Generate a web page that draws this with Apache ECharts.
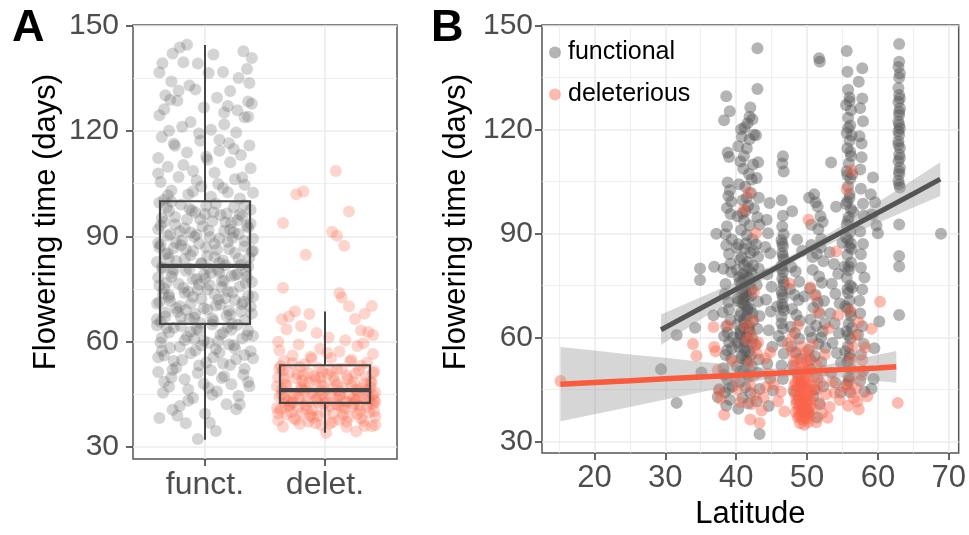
<!DOCTYPE html>
<html>
<head>
<meta charset="utf-8">
<script src="https://cdn.jsdelivr.net/npm/echarts@6.0.0/dist/echarts.min.js"></script>
<style>
  html, body { margin: 0; padding: 0; background: #fff; }
  #chart { width: 969px; height: 535px; }
</style>
</head>
<body>
<div id="chart"></div>
<script>
// ---- data ----
const aCategories = ["funct.", "delet."];
const yTicks = [30, 60, 90, 120, 150];
const latTicks = [20, 30, 40, 50, 60, 70];

// panel A: [jittered group position, flowering days]
const functJitter = [
  [0.79,143.8],[0.85,144.6],[1.32,142.7],[1.39,140.8],[0.645,139.3],[0.62,136.7],[0.82,139.6],[0.94,139.2],[1.03,136.5],[1.15,136.8],
  [1.35,137.7],[1.37,133.7],[0.72,134.1],[0.78,131.5],[0.92,131.8],[1.21,131.4],[0.77,128.6],[0.71,128.9],[1.36,128.4],[1.39,127.8],
  [0.66,126.2],[0.62,124.5],[1.19,127.1],[1.16,125.3],[1.27,125.9],[1.33,123.9],[0.88,122.6],[0.81,121.2],[0.7,120.1],[1.05,120.4],
  [1.26,119.6],[0.64,118.3],[0.96,117.2],[1.12,117.5],[1.37,115.9],[0.75,115.8],[0.85,113.9],[1.3,113.2],[0.61,112.3],[1.02,111.8],
  [1.21,111.1],[0.69,109.8],[1.38,109.4],[0.9,108.6],[1.08,108.1],[0.78,106.9],[1.25,106.3],[0.63,105.5],[1.33,104.7],[0.97,104.2],
  [1.15,103.8],[0.72,103.1],[1.4,102.4],[0.86,101.9],[1.05,101.3],[1.29,100.8],[0.66,100.4],[1.19,102.6],[0.93,105.9],[1.12,114.4],
  [0.62,99.6],[0.8,99.1],[1.01,98.7],[1.24,98.3],[1.38,97.6],[0.7,97.2],[0.92,96.8],[1.13,96.1],[1.31,95.7],[0.64,95.2],
  [0.85,94.8],[1.06,94.3],[1.22,93.9],[0.75,93.4],[0.98,92.9],[1.36,92.5],[0.61,92.0],[1.16,91.6],[0.88,91.1],[1.28,90.7],
  [0.69,90.2],[1.04,89.8],[1.4,89.3],[0.81,88.9],[1.19,88.4],[0.95,88.0],[0.63,87.6],[1.33,87.1],[0.74,86.7],[1.1,86.2],
  [0.9,85.8],[1.25,85.3],[0.67,84.9],[1.02,84.4],[1.37,84.0],[0.83,83.5],[1.15,83.1],[0.6,82.7],[0.97,82.2],[1.3,81.9],
  [0.72,99.9],[1.09,99.3],[0.87,97.9],[1.18,96.5],[0.66,94.1],[1.35,93.0],[0.79,91.4],[1.23,89.6],[1.08,87.9],[0.84,86.3],
  [1.39,85.6],[0.7,83.8],[1.12,82.5],[0.93,90.5],[1.27,94.6],[0.76,88.2],[1.0,96.4],[1.21,91.9],[0.62,86.9],[1.33,98.9],
  [0.64,81.2],[0.87,80.8],[1.11,80.4],[1.34,80.0],[0.73,79.6],[0.99,79.1],[1.22,78.7],[0.61,78.3],[0.9,77.8],[1.16,77.4],
  [1.39,77.0],[0.78,76.5],[1.04,76.1],[1.29,75.7],[0.66,75.2],[0.94,74.8],[1.19,74.4],[0.83,73.9],[1.08,73.5],[1.36,73.1],
  [0.7,72.6],[0.97,72.2],[1.25,71.8],[0.62,71.3],[0.88,70.9],[1.13,70.5],[1.38,70.0],[0.76,69.6],[1.02,69.2],[1.3,68.7],
  [0.67,68.3],[0.92,67.9],[1.18,67.4],[0.8,67.0],[1.06,66.6],[1.33,66.1],[0.63,65.7],[0.96,65.3],[1.23,65.1],[0.74,80.6],
  [1.27,79.3],[1.0,78.0],[0.68,76.8],[1.14,75.5],[0.86,74.2],[1.4,72.9],[0.71,71.6],[1.09,70.3],[0.84,69.0],[1.21,67.7],
  [0.6,66.4],[1.35,78.5],[0.95,76.3],[1.17,72.4],[0.77,68.5],[1.03,81.0],[0.65,73.7],[1.31,70.7],[0.91,66.8],[1.12,79.8],
  [0.94,32.3],[0.62,38.3],[0.73,40.6],[0.84,36.8],[1.04,36.9],[0.79,41.7],[1.18,42.2],[1.29,42.1],[0.65,45.5],[1.36,48.5],
  [1.4,55.3],[1.0,39.5],[0.9,44.0],[1.1,45.8],[0.7,47.2],[1.22,47.9],[0.83,49.3],[1.32,50.6],[0.61,51.4],[1.05,51.9],
  [0.95,53.2],[1.15,53.8],[0.74,54.5],[1.26,55.0],[0.66,56.1],[0.88,56.7],[1.38,57.3],[1.09,57.9],[0.79,58.6],[1.2,59.2],
  [0.63,59.8],[0.99,60.3],[1.31,60.9],[0.85,61.5],[1.13,62.0],[0.7,62.6],[1.36,63.1],[0.93,63.7],[1.19,64.2],[0.6,64.7],
  [1.03,46.8],[0.76,52.6],[1.25,58.1],[0.91,60.8],[1.4,61.7],[0.68,63.9],[1.07,55.6],[0.86,43.2],[1.16,50.2],[0.64,57.4],
  [1.33,52.3],[0.97,58.9],[1.22,63.4],[0.8,64.5],[1.11,60.1],[0.72,49.8],[1.28,44.6],[0.99,48.0],[0.88,62.9],[1.06,64.9],
  [0.68,98.2],[0.89,97.4],[1.07,96.9],[1.29,96.2],[0.75,95.5],[0.96,94.9],[1.17,94.0],[1.38,93.6],[0.63,93.1],[0.83,92.3],
  [1.03,91.7],[1.24,91.2],[0.71,90.6],[0.91,89.9],[1.12,89.4],[1.33,88.7],[0.61,88.1],[0.8,87.5],[1.01,86.8],[1.2,86.4],
  [1.4,85.9],[0.69,85.2],[0.88,84.6],[1.08,84.1],[1.28,83.6],[0.76,83.0],[0.97,82.4],[1.17,81.8],[1.36,81.4],[0.65,80.9],
  [0.84,80.2],[1.05,79.6],[1.25,79.0],[0.72,78.5],[0.93,77.9],[1.14,77.2],[1.34,76.7],[0.62,76.0],[0.82,75.4],[1.02,74.9],
  [1.23,74.1],[0.7,73.3],[0.9,72.8],[1.11,72.0],[1.32,71.4],[0.6,70.8],[0.79,70.1],[0.99,69.5],[1.2,68.9],[1.39,68.0],
  [0.67,67.2],[0.87,66.5],[1.07,65.9],[1.27,64.8],[0.74,64.0],[0.95,63.3],[1.15,62.5],[1.35,61.8],[0.64,61.1],[0.83,60.4],
  [1.03,59.7],[1.24,59.0],[0.71,58.2],[0.92,57.5],[1.12,56.9],[1.33,56.2],[0.61,55.6],[0.81,54.8],[1.01,54.1],[1.21,53.4],
  [0.73,52.0],[0.94,51.1],[1.14,49.7],[1.37,47.3],[0.66,48.6],[0.86,46.4],[1.06,44.9],[1.26,40.8],[0.77,38.9],[1.09,34.6],
  [0.69,101.7],[0.9,102.8],[1.11,104.9],[1.31,106.8],[0.61,107.9],[0.82,110.3],[1.01,112.7],[1.24,114.9],[0.74,116.4],[0.95,119.3],
  [1.16,121.9],[1.36,124.1],[0.67,130.2],[0.87,133.0],[1.1,129.5],[1.28,135.1],[0.99,126.7],[1.07,141.8],[0.73,142.1],[1.2,116.5]
];
const deletJitter = [
  [2.09,108.6],[1.76,102.0],[1.82,102.8],[2.2,97.1],[1.65,93.8],[2.06,91.3],[2.1,90.2],[2.16,87.3],[1.84,84.8],[1.65,75.4],
  [2.12,73.9],[2.14,72.6],[2.2,70.1],[2.39,70.2],[1.75,68.6],[1.7,67.2],[1.87,67.9],[2.33,68.0],[1.64,66.4],[1.8,64.5],
  [2.25,66.5],[2.3,63.2],[2.36,62.8],[1.93,62.5],[2.4,61.9],[1.68,63.5],[2.03,61.2],[2.17,60.4],[1.61,60.0],[2.32,59.6],
  [1.78,59.2],[2.27,58.8],[1.96,58.0],[1.62,57.6],[2.12,57.2],[2.4,56.5],[1.73,56.1],[1.88,55.7],[2.05,55.3],[2.22,54.9],
  [1.66,54.5],[2.35,54.0],[1.83,53.6],
  [1.63,53.1],[1.79,52.8],[1.95,52.5],[2.1,52.2],[2.28,51.9],[2.41,51.6],[1.7,51.3],[1.86,51.0],[2.02,50.7],[2.18,50.4],
  [2.34,50.1],[1.61,49.8],[1.76,49.5],[1.92,49.2],[2.08,48.9],[2.24,48.6],[2.39,48.3],[1.67,48.0],[1.83,47.7],[1.99,47.4],
  [2.15,47.1],[2.31,46.8],[1.64,46.5],[1.8,46.3],[1.96,46.1],[2.12,45.9],[2.27,45.7],[2.42,45.5],[1.72,45.3],[1.88,45.1],
  [2.04,44.9],[2.2,44.7],[2.36,44.5],[1.62,44.3],[1.78,44.1],[1.94,43.9],[2.1,43.7],[2.26,43.5],[2.41,43.3],[1.69,43.1],
  [1.85,42.9],[2.01,42.7],[2.17,43.0],[2.33,43.6],[1.74,44.6],[1.9,45.6],[2.06,46.6],[2.22,47.6],[2.38,48.7],[1.66,49.6],
  [1.82,50.5],[1.98,51.4],[2.14,52.3],[2.3,53.2],[1.6,47.3],[2.0,44.2],[2.42,42.8],[1.87,48.4],[2.25,50.9],[1.73,42.7],
  [2.07,49.9],[2.35,46.2],[1.92,43.4],[2.13,45.2],[1.65,51.8],[2.28,44.0],[1.8,46.9],[2.4,51.1],[1.97,47.9],[2.19,42.9],
  [1.65,35.8],[2.01,34.1],[2.26,34.4],[2.39,35.9],[2.42,36.3],[1.97,36.2],[1.61,37.6],[1.74,38.1],[1.86,37.2],[2.12,37.8],
  [2.32,37.4],[1.68,39.3],[1.81,39.8],[1.94,38.9],[2.07,39.5],[2.2,38.6],[2.37,39.9],[1.63,40.7],[1.77,41.2],[1.9,40.4],
  [2.04,41.6],[2.16,40.9],[2.29,41.8],[2.41,40.2],[1.71,42.1],[1.84,41.9],[1.99,42.3],[2.11,42.0],[2.24,42.4],[2.35,41.4],
  [1.6,41.1],[1.92,36.8],[2.18,35.7],[1.79,36.6],[2.3,38.2],[1.66,42.5],[2.06,37.1],[2.4,42.2],[1.88,39.0],[2.14,41.3],
  [1.72,40.0],[2.27,39.4],
  [1.62,52.4],[1.77,50.8],[1.91,50.1],[2.05,51.7],[2.19,49.4],[2.33,48.0],[1.68,47.5],[1.83,46.0],[1.98,45.3],[2.12,44.6],
  [2.26,46.4],[2.4,44.9],[1.64,45.0],[1.79,43.4],[1.94,42.6],[2.09,42.3],[2.23,41.5],[2.37,43.1],[1.7,41.6],[1.85,40.6],
  [2.0,39.8],[2.15,39.1],[2.29,40.4],[1.61,39.6],[1.76,37.8],[1.9,38.4],[2.04,36.7],[2.18,37.2],[2.33,36.0],[2.42,38.6],
  [1.66,44.0],[1.81,48.9],[1.96,49.8],[2.1,47.8],[2.24,43.9],[2.38,46.9],[1.73,53.9],[1.89,55.2],[2.02,56.8],[2.21,54.4]
];
// box stats: [group, whisker low, Q1, median, Q3, whisker high]
const boxStats = [
  [1, 32.1, 65.1, 81.6, 100.0, 144.5],
  [2, 34.1, 42.6, 46.2, 53.3, 68.6]
];

// panel B: [latitude, flowering days]
const functionalLat = [
  [29.4,50.8],[31.6,41.1],[31.6,60.7],[34.2,62.8],[34.9,79.9],[34.9,76.6],[35.1,49.9],[36.8,66.4],[36.9,80.4],[37.2,89.9],[37.4,42.8],[37.6,45.0],
  [38.6,129.6],[39.1,125.3],[38.3,122.7],[38.8,113.4],[39.0,112.1],[38.8,104.7],[39.1,102.5],[38.9,100.8],[39.3,99.2],[38.7,97.4],
  [39.2,95.6],[38.5,89.8],[39.4,88.3],[38.6,86.6],[39.0,84.1],[38.2,79.8],[39.3,78.9],[38.4,72.5],[38.9,70.2],[38.1,67.3],
  [39.2,65.1],[38.6,63.2],[38.3,60.4],[39.0,58.6],[38.7,56.3],[38.5,54.9],[39.3,53.8],[38.2,51.1],[38.8,47.6],[38.4,44.2],
  [39.1,42.0],[38.6,40.3],[39.5,45.8],[39.6,60.0],
  [38.7,92.1],[39.2,81.3],[38.5,75.4],[39.0,68.1],[38.8,61.4],[39.4,56.9],[38.3,49.2],[39.0,45.3],
  [40.3,115.2],[40.8,117.9],[41.2,120.6],[41.6,121.8],[41.9,123.7],[42.3,123.0],[41.5,114.6],[40.6,110.8],[41.0,108.7],[41.8,107.2],
  [42.4,109.9],[40.4,104.2],[41.3,103.5],[42.1,101.7],[40.9,99.6],[41.7,98.1],[42.5,97.2],[40.2,95.0],[41.1,93.8],[41.9,92.4],
  [40.7,91.0],[41.5,89.6],[42.3,88.3],[40.3,86.9],[41.2,85.5],[42.0,84.4],[40.8,83.0],[41.6,81.8],[42.4,80.7],[40.1,79.5],
  [41.0,78.3],[41.8,77.2],[40.5,76.0],[41.4,74.9],[42.2,73.8],[40.9,72.6],[41.7,71.5],[40.3,70.4],[41.2,69.3],[42.0,68.2],
  [40.7,67.1],[41.5,66.0],[42.4,64.9],[40.2,63.8],[41.1,62.7],[41.9,61.6],[40.6,60.5],[41.4,59.4],[42.2,58.3],[40.4,57.2],
  [41.3,56.1],[42.1,55.0],[40.8,53.9],[41.6,52.8],[40.1,51.7],[41.0,50.2],[41.8,48.7],[40.5,47.1],[41.3,45.6],[42.0,44.0],
  [40.9,42.5],[41.7,40.9],[40.3,39.4],[41.1,65.2],[41.4,72.1],[40.8,75.6],[41.8,63.3],[41.2,58.9],[41.6,68.7],[40.6,62.0],
  [41.0,71.0],[41.5,77.9],
  [40.5,82.4],[41.1,80.9],[41.7,79.8],[42.2,78.6],[40.4,77.4],[41.0,76.7],[41.9,75.3],[40.7,74.1],[41.3,73.2],[42.1,72.0],
  [40.2,71.2],[40.9,69.9],[41.6,68.0],[42.3,67.0],[40.5,66.2],[41.2,64.3],[41.8,62.4],[40.6,61.2],[41.5,60.2],[42.3,59.7],
  [40.2,58.6],[41.1,57.0],[41.8,55.9],[40.8,54.7],[41.4,53.4],[42.2,51.6],[40.6,50.3],[41.6,49.4],[40.1,85.8],[41.4,87.1],
  [42.5,85.0],[40.9,95.9],[41.5,100.3],[42.2,105.6],[41.1,112.4],[41.9,117.2],[40.7,120.1],[42.0,126.4],[42.5,118.5],[41.3,96.5],
  [43.0,143.5],[43.0,131.7],[42.8,118.4],[43.1,110.6],[42.9,106.0],[43.2,100.3],[43.0,94.7],[43.3,92.5],[42.8,86.8],[43.1,83.3],
  [43.2,79.8],[42.9,75.1],[43.1,70.4],[43.3,66.2],[43.0,62.5],[42.8,57.9],[43.2,53.6],[43.0,49.7],[43.3,45.1],[42.9,41.6],[43.3,32.1],
  [44.3,94.0],[44.5,90.1],[44.7,98.8],[44.1,86.1],[44.8,84.3],[44.4,78.2],[45.0,74.6],[44.2,70.9],[44.9,67.5],[44.6,62.1],
  [45.1,57.3],[44.4,52.4],[44.8,48.1],[45.2,44.7],[44.6,40.2],
  [46.6,112.3],[46.5,110.2],[46.7,107.9],[46.4,99.6],[46.6,95.1],[46.5,92.0],[46.7,89.8],[46.4,88.1],[46.6,86.3],[46.5,84.4],
  [46.7,82.6],[46.4,80.7],[46.6,78.9],[46.5,77.0],[46.7,75.2],[46.4,73.3],[46.6,71.5],[46.5,69.6],[46.7,67.8],[46.4,65.9],
  [46.6,62.6],[46.5,58.8],[46.7,55.3],[46.4,51.9],[46.6,48.0],[46.0,60.4],[45.8,68.9],
  [46.5,87.2],[46.6,83.5],[46.4,79.8],[46.7,76.1],[46.5,72.4],[46.6,68.7],[46.4,64.0],
  [47.9,96.4],[48.6,88.2],[47.8,80.3],[48.4,79.0],[48.9,76.1],[47.6,74.0],[48.2,72.3],[48.8,70.8],[47.9,68.2],[48.5,66.5],
  [49.0,64.8],[47.7,63.1],[48.3,61.3],[48.9,59.6],[47.8,57.4],[48.4,55.6],[49.1,53.9],[48.0,51.8],[48.7,49.3],[49.2,46.7],
  [48.1,44.5],[48.8,42.1],[49.4,39.5],[49.6,71.8],[49.3,85.0],
  [50.3,100.3],[51.0,101.3],[51.7,140.6],[51.8,139.6],[51.5,97.8],[51.9,95.0],[52.2,93.3],[51.6,91.2],[52.0,88.4],[50.6,86.7],
  [51.4,84.2],[52.3,82.0],[50.8,79.5],[51.7,77.6],[52.1,75.8],[50.4,74.1],[51.2,72.3],[52.4,70.5],[50.9,68.6],[51.8,66.9],
  [50.5,65.2],[51.3,63.4],[52.2,61.7],[50.7,59.9],[51.6,58.1],[50.2,56.4],[51.1,54.6],[52.0,52.9],[50.6,50.8],[51.5,48.3],
  [52.3,45.8],[50.9,43.1],[51.8,40.7],[50.1,38.2],[51.4,36.9],[52.5,64.0],[52.6,57.0],
  [51.2,99.0],[50.6,92.5],[51.9,86.0],[50.8,83.2],[51.5,70.0],[50.4,61.8],[52.0,60.0],[51.1,45.0],[50.5,53.5],
  [53.4,110.5],[54.1,97.7],[53.2,84.6],[53.8,81.2],[54.4,78.4],[53.5,75.5],[54.0,72.6],[54.6,69.8],[53.3,66.9],[53.9,64.1],
  [54.5,61.2],[53.6,58.4],[54.2,55.5],[54.8,52.7],[53.4,49.8],[54.0,47.0],[54.7,44.1],[55.0,87.3],
  [55.6,142.7],[55.7,136.7],[55.8,131.5],[56.0,129.3],[55.5,127.1],[56.2,125.6],[55.8,123.4],[56.1,121.2],[55.6,119.0],[56.0,116.8],
  [55.7,114.6],[56.2,112.4],[55.9,110.2],[55.6,108.0],[56.1,105.8],[55.8,103.6],[56.0,101.4],[55.7,99.2],[56.2,97.0],[55.9,94.8],
  [55.6,92.6],[56.1,90.4],[55.8,88.2],[56.0,86.0],[55.7,83.8],[56.2,81.6],[55.9,79.4],[55.6,77.2],[56.1,75.0],[55.8,72.8],
  [56.0,70.6],[55.7,68.4],[56.2,66.2],[55.9,64.0],[55.6,61.8],[56.1,59.6],[55.8,57.4],[56.0,55.2],[55.7,53.0],[56.2,50.8],
  [55.9,48.6],[55.6,46.4],[56.1,44.2],[56.4,107.1],[56.5,96.3],[56.3,85.5],[56.4,74.4],[55.4,69.0],[55.3,80.5],[55.5,98.5],
  [56.0,128.2],[55.8,120.5],[56.1,113.5],[55.7,106.9],[56.0,100.3],[55.8,93.7],[56.2,87.1],[55.9,80.5],[55.7,73.9],[56.1,67.3],
  [55.8,60.7],[56.0,54.1],[55.9,47.5],[56.3,118.3],[56.3,62.8],[55.4,56.0],[55.5,88.9],
  [57.8,137.7],[57.3,133.8],[57.8,129.0],[57.5,126.2],[57.9,122.4],[57.4,118.1],[57.7,116.0],[57.6,102.9],[58.0,95.2],[57.5,90.6],
  [57.9,87.0],[57.6,80.1],[58.1,77.3],[57.4,70.6],[57.8,63.2],[58.0,58.1],[57.6,55.0],[57.9,50.3],[57.5,47.4],[58.1,44.3],[57.2,60.8],
  [57.7,112.0],[57.5,108.5],[57.9,98.6],[57.6,84.0],[57.8,73.8],[57.5,66.9],
  [59.3,106.2],[59.0,101.3],[59.6,99.0],[59.2,95.4],[59.8,92.3],[60.0,90.1],[59.4,48.0],[59.1,45.2],[60.2,64.6],[59.5,56.9],
  [63.0,144.7],[63.0,139.6],[62.9,138.1],[63.1,136.2],[63.0,130.0],[62.9,128.0],[63.1,126.1],[63.0,124.2],[62.9,122.3],[63.1,120.4],
  [63.0,118.5],[62.9,116.6],[63.1,114.7],[63.0,112.8],[62.9,110.9],[63.1,109.0],[63.0,107.1],[62.9,105.2],[63.1,103.3],[63.0,92.6],
  [63.0,83.5],[63.0,80.5],[63.0,66.5],[68.9,89.9],
  [63.0,135.0],[62.9,132.0],[63.1,129.0],[63.0,121.4],[62.9,115.6],[63.0,108.0],[63.1,111.8],[63.0,104.2],[62.9,119.5],[63.0,125.1]
];
const deleteriousLat = [
  [15.2,47.4],[33.9,58.1],[34.4,54.7],[36.8,63.0],[36.9,57.2],[37.1,56.0],[37.4,50.6],[37.6,44.6],[37.8,42.3],[38.3,37.7],
  [38.8,63.5],[39.5,53.1],[39.9,48.0],[40.2,44.9],[40.6,41.3],[41.1,96.9],[41.8,101.8],[42.8,90.1],[42.5,73.2],[41.5,59.3],
  [42.1,61.0],[42.6,57.7],[42.9,55.4],[41.9,52.6],[42.4,48.9],[42.0,46.2],[42.7,43.4],[42.2,40.8],[42.0,36.3],[43.3,35.3],
  [43.6,38.9],[43.9,42.6],[44.2,45.7],[44.5,49.6],[44.1,53.9],[45.3,46.5],[45.9,41.6],[46.3,44.3],[46.8,38.6],[47.5,75.6],
  [48.7,63.5],[50.2,94.0],[50.5,74.5],[51.2,71.8],[51.6,67.4],[47.3,58.2],[47.9,55.9],[48.2,53.1],
  [48.3,51.4],[48.6,49.8],[48.9,48.2],[49.2,46.5],[49.5,44.9],[49.8,43.3],[50.1,41.7],[50.4,40.1],[48.4,38.5],[48.7,36.9],
  [49.0,35.2],[49.3,52.6],[49.6,50.9],[49.9,49.3],[50.2,47.7],[50.5,46.1],[48.5,44.5],[48.8,42.9],[49.1,41.3],[49.4,39.7],
  [49.7,38.1],[50.0,36.5],[50.3,54.8],[48.6,53.7],[48.9,45.4],[49.2,43.8],[49.5,42.2],[49.8,40.6],[50.1,39.0],[50.4,37.4],
  [48.4,47.0],[48.7,45.9],[49.0,44.0],[49.3,41.9],[49.6,40.0],[49.9,37.8],[50.2,43.1],[50.5,42.0],[48.5,40.9],[48.8,39.2],
  [49.1,37.6],[49.4,36.2],[49.7,55.6],[50.0,53.4],[50.3,50.2],[48.3,43.7],[49.0,48.8],[49.8,46.9],[50.6,45.0],[49.2,57.3],
  [48.0,60.5],[50.8,57.9],
  [48.5,41.8],[48.9,40.1],[49.3,38.9],[49.7,36.9],[50.0,40.8],[50.3,38.4],[49.1,45.6],[49.5,47.6],[49.9,45.3],[48.7,47.8],
  [50.4,44.1],[49.4,50.2],[50.1,51.6],[48.2,46.1],[50.7,39.5],[49.6,34.8],[48.9,37.2],[50.2,35.6],
  [51.0,48.4],[51.4,44.8],[51.7,41.2],[52.1,38.1],[51.3,35.5],[51.9,46.9],[52.3,50.3],[52.7,43.6],[53.2,39.9],[53.6,47.2],
  [52.5,55.1],[53.0,62.6],[51.3,52.4],[54.1,84.8],[54.4,66.4],[53.9,44.0],[54.6,41.9],[55.2,45.6],[52.9,36.8],
  [41.3,63.2],[42.3,64.9],[43.1,58.5],[44.8,55.7],
  [55.6,102.8],[56.3,108.1],[56.1,67.8],[57.3,64.4],[57.3,39.2],[56.6,42.5],[56.0,47.9],[56.2,53.7],[56.4,57.4],[55.8,40.3],
  [57.0,45.3],[57.6,49.0],[56.9,60.6],[58.2,57.0],[57.8,53.5],[55.9,45.1],[57.1,41.5],
  [59.1,62.5],[60.3,70.3],[62.8,41.1],[58.5,43.0]
];

// linear fits with confidence band, read at a few latitudes
const functFitLat  = [29.4, 35, 40, 45, 50, 55, 60, 65, 68.8];
const functFitDays = [62.2, 68.4, 73.9, 79.4, 85.0, 90.5, 96.0, 101.5, 105.7];
const functBandLo  = [57.8, 65.2, 71.8, 78.2, 83.9, 88.6, 93.0, 97.5, 100.8];
const functBandHi  = [66.6, 71.6, 76.0, 80.6, 86.1, 92.4, 99.0, 105.5, 110.6];

const delFitLat  = [15.2, 20, 25, 30, 35, 40, 45, 50, 55, 60, 62.6];
const delFitDays = [46.5, 47.0, 47.5, 48.1, 48.6, 49.1, 49.6, 50.2, 50.7, 51.2, 51.5];
const delBandLo  = [35.8, 37.8, 39.9, 42.1, 44.2, 46.2, 48.2, 49.2, 48.4, 47.4, 46.9];
const delBandHi  = [57.2, 56.2, 55.1, 54.1, 53.0, 52.0, 51.0, 51.2, 53.0, 55.0, 56.1];

// ---- styling ----
const FONT = "'Liberation Sans', Arial, Helvetica, sans-serif";
const GRID_COL = "#ebebeb";
const BORDER_COL = "#555555";
const TICK_COL = "#333333";
const LABEL_COL = "#4d4d4d";
const BOX_HALF = 0.375;

const chart = echarts.init(document.getElementById("chart"), null, { renderer: "canvas" });

function yAxisFor(gridIndex, margin) {
  return {
    gridIndex: gridIndex,
    type: "value",
    min: 26.6,
    max: 150.2,
    minInterval: 30,
    maxInterval: 30,
    axisLine: { show: false },
    axisTick: { show: true, customValues: yTicks, length: 7, lineStyle: { color: TICK_COL, width: 1.5 } },
    axisLabel: {
      customValues: yTicks, margin: margin, fontSize: 30, color: LABEL_COL, fontFamily: FONT,
      formatter: (v) => (v % 30 === 0 ? String(v) : "")
    },
    splitLine: { show: true, lineStyle: { color: GRID_COL, width: 1.6 } },
    minorTick: { show: false, splitNumber: 2 },
    minorSplitLine: { show: true, lineStyle: { color: GRID_COL, width: 0.8 } }
  };
}

function bandRenderer(lat, lo, hi, fill) {
  return function (params, api) {
    if (params.dataIndex !== 0) return null;
    const upper = lat.map((x, i) => api.coord([x, hi[i]]));
    const lower = lat.map((x, i) => api.coord([x, lo[i]])).reverse();
    return { type: "polygon", shape: { points: upper.concat(lower) }, style: { fill: fill } };
  };
}

function boxRenderer(params, api) {
  const x = api.value(0);
  const wLo = api.value(1), q1 = api.value(2), med = api.value(3), q3 = api.value(4), wHi = api.value(5);
  const tl = api.coord([x - BOX_HALF, q3]);
  const br = api.coord([x + BOX_HALF, q1]);
  const top = api.coord([x, wHi]), q3c = api.coord([x, q3]);
  const q1c = api.coord([x, q1]), bottom = api.coord([x, wLo]);
  const mL = api.coord([x - BOX_HALF, med]), mR = api.coord([x + BOX_HALF, med]);
  const stroke = "#444444";
  return {
    type: "group",
    children: [
      { type: "line", shape: { x1: top[0], y1: top[1], x2: q3c[0], y2: q3c[1] }, style: { stroke: stroke, lineWidth: 2 } },
      { type: "line", shape: { x1: q1c[0], y1: q1c[1], x2: bottom[0], y2: bottom[1] }, style: { stroke: stroke, lineWidth: 2 } },
      { type: "rect", shape: { x: tl[0], y: tl[1], width: br[0] - tl[0], height: br[1] - tl[1] },
        style: { fill: "transparent", stroke: stroke, lineWidth: 2.2 } },
      { type: "line", shape: { x1: mL[0], y1: mL[1], x2: mR[0], y2: mR[1] }, style: { stroke: stroke, lineWidth: 4.2 } }
    ]
  };
}

const option = {
  backgroundColor: "#ffffff",
  animation: false,
  textStyle: { fontFamily: FONT },
  grid: [
    { left: 133, top: 25, width: 264, height: 434, show: true, borderColor: BORDER_COL, borderWidth: 1.5, backgroundColor: "transparent", containLabel: false },
    { left: 542, top: 25, width: 417, height: 434, show: true, borderColor: BORDER_COL, borderWidth: 1.5, backgroundColor: "transparent", containLabel: false }
  ],
  legend: {
    data: ["functional", "deleterious"],
    orient: "vertical",
    left: 549,
    top: 40,
    padding: 0,
    itemGap: 17,
    itemWidth: 12,
    itemHeight: 12,
    icon: "circle",
    selectedMode: false,
    itemStyle: { borderWidth: 0 },
    textStyle: { fontSize: 25, color: "#000000", fontFamily: FONT, padding: [0, 0, 0, 2] }
  },
  xAxis: [
    {
      gridIndex: 0,
      type: "value",
      min: 0.4,
      max: 2.6,
      minInterval: 1,
      maxInterval: 1,
      axisLine: { show: false },
      axisTick: { show: true, customValues: [1, 2], length: 7, lineStyle: { color: TICK_COL, width: 1.5 } },
      axisLabel: {
        customValues: [1, 2], margin: 10, fontSize: 32, color: LABEL_COL, fontFamily: FONT,
        formatter: (v) => aCategories[Math.round(v) - 1] || ""
      },
      splitLine: { show: true, lineStyle: { color: GRID_COL, width: 1.6 } }
    },
    {
      gridIndex: 1,
      type: "value",
      min: 12.6,
      max: 71.4,
      minInterval: 10,
      maxInterval: 10,
      name: "Latitude",
      nameLocation: "middle",
      nameGap: 36,
      nameTextStyle: { fontSize: 31, color: "#000000", fontFamily: FONT },
      axisLine: { show: false },
      axisTick: { show: true, customValues: latTicks, length: 7, lineStyle: { color: TICK_COL, width: 1.5 } },
      axisLabel: {
        customValues: latTicks, margin: 10, fontSize: 31, color: LABEL_COL, fontFamily: FONT,
        formatter: (v) => (v % 10 === 0 ? String(v) : "")
      },
      splitLine: { show: true, lineStyle: { color: GRID_COL, width: 1.6 } },
      minorTick: { show: false, splitNumber: 2 },
      minorSplitLine: { show: true, lineStyle: { color: GRID_COL, width: 0.8 } }
    }
  ],
  yAxis: [yAxisFor(0, 14), yAxisFor(1, 9)],
  graphic: [
    { type: "text", left: 12, top: 6, style: { text: "A", font: "bold 45px " + FONT, fill: "#000" } },
    { type: "text", left: 431, top: 6, style: { text: "B", font: "bold 45px " + FONT, fill: "#000" } },
    { type: "text", x: 46, y: 222, rotation: Math.PI / 2,
      style: { text: "Flowering time (days)", font: "31px " + FONT, fill: "#000", textAlign: "center", textVerticalAlign: "middle" } },
    { type: "text", x: 456, y: 222, rotation: Math.PI / 2,
      style: { text: "Flowering time (days)", font: "31px " + FONT, fill: "#000", textAlign: "center", textVerticalAlign: "middle" } }
  ],
  series: [
    {
      name: "functA", type: "scatter", xAxisIndex: 0, yAxisIndex: 0, data: functJitter,
      symbolSize: 12, silent: true, z: 2,
      itemStyle: { color: "rgba(90,90,90,0.32)", borderWidth: 0 }
    },
    {
      name: "deletA", type: "scatter", xAxisIndex: 0, yAxisIndex: 0, data: deletJitter,
      symbolSize: 12, silent: true, z: 2,
      itemStyle: { color: "rgba(250,95,65,0.33)", borderWidth: 0 }
    },
    {
      name: "boxA", type: "custom", xAxisIndex: 0, yAxisIndex: 0, data: boxStats,
      renderItem: boxRenderer, silent: true, z: 3,
      encode: { x: 0, y: [1, 2, 3, 4, 5] }
    },
    {
      name: "functional", type: "scatter", xAxisIndex: 1, yAxisIndex: 1, data: functionalLat,
      symbolSize: 12, silent: true, z: 2,
      itemStyle: { color: "rgba(85,85,85,0.55)", borderWidth: 0 }
    },
    {
      name: "deleterious", type: "scatter", xAxisIndex: 1, yAxisIndex: 1, data: deleteriousLat,
      symbolSize: 12, silent: true, z: 2,
      itemStyle: { color: "rgba(250,100,75,0.55)", borderWidth: 0 }
    },
    {
      name: "functBand", type: "custom", xAxisIndex: 1, yAxisIndex: 1,
      data: functFitLat.map((x, i) => [x, functBandLo[i], functBandHi[i]]),
      renderItem: bandRenderer(functFitLat, functBandLo, functBandHi, "rgba(153,153,153,0.4)"),
      encode: { x: 0, y: [1, 2] }, silent: true, z: 3
    },
    {
      name: "delBand", type: "custom", xAxisIndex: 1, yAxisIndex: 1,
      data: delFitLat.map((x, i) => [x, delBandLo[i], delBandHi[i]]),
      renderItem: bandRenderer(delFitLat, delBandLo, delBandHi, "rgba(153,153,153,0.4)"),
      encode: { x: 0, y: [1, 2] }, silent: true, z: 3
    },
    {
      name: "functFit", type: "line", xAxisIndex: 1, yAxisIndex: 1,
      data: functFitLat.map((x, i) => [x, functFitDays[i]]),
      symbol: "none", silent: true, z: 4,
      lineStyle: { color: "#555555", width: 5 }
    },
    {
      name: "delFit", type: "line", xAxisIndex: 1, yAxisIndex: 1,
      data: delFitLat.map((x, i) => [x, delFitDays[i]]),
      symbol: "none", silent: true, z: 4,
      lineStyle: { color: "#fb5a3c", width: 5.5 }
    }
  ]
};

chart.setOption(option);
</script>
</body>
</html>
